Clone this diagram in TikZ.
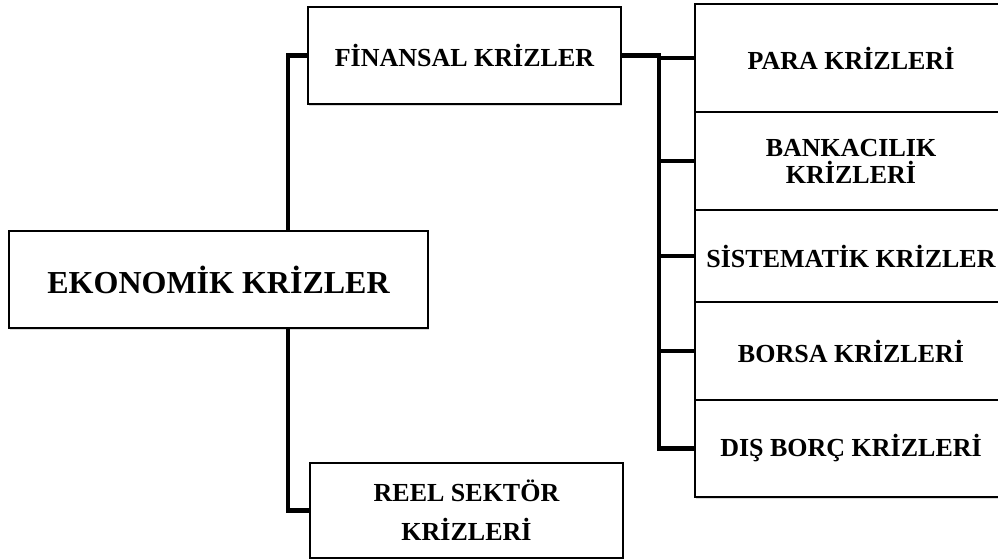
\documentclass[tikz,border=0pt]{standalone}
\usepackage{fontspec}
\setmainfont{Liberation Serif}
\usetikzlibrary{shadows}

\begin{document}
\begin{tikzpicture}[x=1pt, y=-1pt]
            \tikzset{box/.style = {draw, line width=1.3pt, fill=white, inner sep=0pt, align=center,
                drop shadow={opacity=0.3, shadow xshift=1.2pt, shadow yshift=-2pt},
                minimum width=313pt, font=\fontsize{26}{27}\selectfont\bfseries}}
            \tikzset{side/.style = {box, minimum width=312pt}}
            \tikzset{link/.style = {line width=4.6pt}}
            \useasboundingbox (0, 0) rectangle (998, 559);
            \node[box, minimum width=419pt, minimum height=97pt, font=\fontsize{32}{34}\selectfont\bfseries] (ekon) at (218.5, 279.5) {EKONOMİK KRİZLER};
            \node[box, minimum height=97pt] (fin) at (464.5, 55.5) {FİNANSAL KRİZLER};
            \node[box, minimum height=95pt, font=\fontsize{26}{39}\selectfont\bfseries] (reel) at (466.5, 510.5) {REEL SEKTÖR\\KRİZLERİ};
            \node[side, minimum height=108pt] (para) at (851, 58) {PARA KRİZLERİ};
            \node[side, minimum height=98pt] (bank) at (851, 161) {BANKACILIK\\KRİZLERİ};
            \node[side, minimum height=92pt] (sist) at (851, 256) {SİSTEMATİK KRİZLER};
            \node[side, minimum height=98pt] (borsa) at (851, 351) {BORSA KRİZLERİ};
            \node[side, minimum height=97pt] (dis) at (851, 448.5) {DIŞ BORÇ KRİZLERİ};
            \coordinate (trunk) at (288, 0);
            \coordinate (bus) at (659, 0);
            \draw[link] (trunk |- ekon.north) |- (fin.west);
            \draw[link] (trunk |- ekon.south) |- (reel.west);
            \draw[link] (fin.east) -- (fin.east -| bus) -- (bus |- dis.west) -- (dis.west);
            \draw[link] (bus |- para.west) -- (para.west);
            \draw[link] (bus |- bank.west) -- (bank.west);
            \draw[link] (bus |- sist.west) -- (sist.west);
            \draw[link] (bus |- borsa.west) -- (borsa.west);
        \end{tikzpicture}
\end{document}
